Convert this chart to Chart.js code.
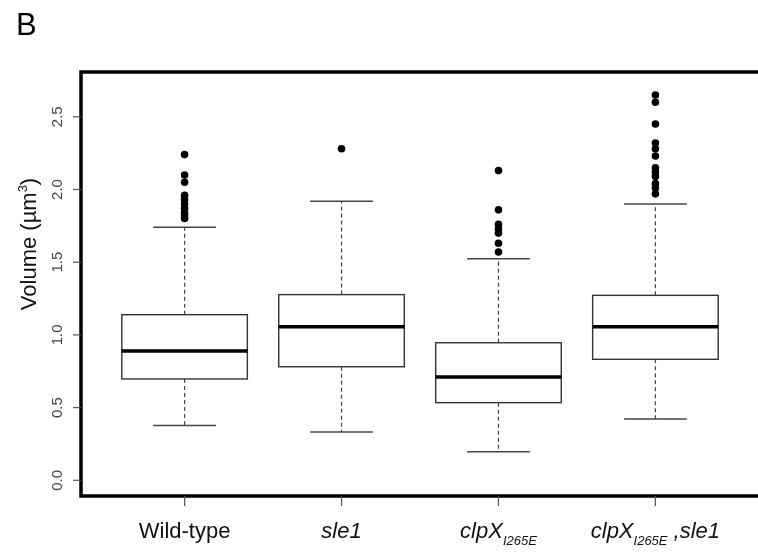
<!DOCTYPE html>
<html>
<head>
<meta charset="utf-8">
<script src="https://cdn.jsdelivr.net/npm/chart.js@4.4.0/dist/chart.umd.min.js"></script>
<style>
html, body { margin: 0; padding: 0; background: #fff; overflow: hidden; }
#wrap { width: 758px; height: 555px; overflow: hidden; position: relative; }
</style>
</head>
<body>
<div id="wrap"><canvas id="chart" width="766" height="555"></canvas></div>
<script>
// Volumes (um^3)
const groups = ['Wild-type', 'sle1', 'clpX I265E', 'clpX I265E, sle1'];
const lowerWhisker = [0.376, 0.332, 0.197, 0.422];
const q1 = [0.697, 0.781, 0.534, 0.832];
const median = [0.889, 1.056, 0.710, 1.056];
const q3 = [1.139, 1.277, 0.946, 1.272];
const upperWhisker = [1.740, 1.919, 1.524, 1.900];
const outliers = [
    [2.24, 2.10, 2.05, 1.96, 1.93, 1.90, 1.87, 1.84, 1.82, 1.80],
    [2.28],
    [2.13, 1.86, 1.76, 1.73, 1.70, 1.63, 1.57],
    [2.65, 2.60, 2.45, 2.32, 2.28, 2.23, 2.15, 2.12, 2.09, 2.04, 2.01, 1.97]
];
const yTicks = [0.0, 0.5, 1.0, 1.5, 2.0, 2.5];
// label pieces: style i = italic, s = italic subscript
const xLabelParts = [
    [['Wild-type', '']],
    [['sle1', 'i']],
    [['clpX', 'i'], ['I265E', 's']],
    [['clpX', 'i'], ['I265E', 's'], [' ,sle1', 'i']]
];

const FONT = '"Liberation Sans", Arial, sans-serif';

// outliers as scatter points on the group positions
const outlierPoints = [];
outliers.forEach((vals, i) => vals.forEach(v => outlierPoints.push({ x: i + 1, y: v })));

const boxPlugin = {
    id: 'boxPlugin',
    beforeDatasetsDraw(chart) {
        const ctx = chart.ctx;
        const xs = chart.scales.x, ys = chart.scales.y;
        const unit = xs.getPixelForValue(2) - xs.getPixelForValue(1);
        const half = unit * 0.4;
        const capHalf = unit * 0.2;
        ctx.save();
        groups.forEach((g, i) => {
            const cx = xs.getPixelForValue(i + 1);
            const yLo = ys.getPixelForValue(lowerWhisker[i]);
            const yQ1 = ys.getPixelForValue(q1[i]);
            const yMed = ys.getPixelForValue(median[i]);
            const yQ3 = ys.getPixelForValue(q3[i]);
            const yHi = ys.getPixelForValue(upperWhisker[i]);

            // whiskers
            ctx.strokeStyle = '#444';
            ctx.lineWidth = 1.2;
            ctx.setLineDash([4, 3]);
            ctx.beginPath();
            ctx.moveTo(cx, yQ3); ctx.lineTo(cx, yHi);
            ctx.moveTo(cx, yQ1); ctx.lineTo(cx, yLo);
            ctx.stroke();
            ctx.setLineDash([]);

            // staples
            ctx.lineWidth = 1.5;
            ctx.beginPath();
            ctx.moveTo(cx - capHalf, yHi); ctx.lineTo(cx + capHalf, yHi);
            ctx.moveTo(cx - capHalf, yLo); ctx.lineTo(cx + capHalf, yLo);
            ctx.stroke();

            // box
            ctx.fillStyle = '#fff';
            ctx.fillRect(cx - half, yQ3, half * 2, yQ1 - yQ3);
            ctx.strokeStyle = '#333';
            ctx.lineWidth = 1.4;
            ctx.strokeRect(cx - half, yQ3, half * 2, yQ1 - yQ3);

            // median
            ctx.strokeStyle = '#000';
            ctx.lineWidth = 3.5;
            ctx.beginPath();
            ctx.moveTo(cx - half, yMed); ctx.lineTo(cx + half, yMed);
            ctx.stroke();
        });
        ctx.restore();
    },
    afterDraw(chart) {
        const ctx = chart.ctx;
        const xs = chart.scales.x, ys = chart.scales.y;
        const a = chart.chartArea;
        ctx.save();

        // frame: left, top, bottom (right edge is cut off by the window)
        ctx.strokeStyle = '#000';
        ctx.lineWidth = 3.5;
        ctx.beginPath();
        ctx.moveTo(chart.width + 5, a.top);
        ctx.lineTo(a.left, a.top);
        ctx.lineTo(a.left, a.bottom);
        ctx.lineTo(chart.width + 5, a.bottom);
        ctx.stroke();

        // y ticks and rotated labels
        ctx.strokeStyle = '#555';
        ctx.lineWidth = 1.2;
        ctx.fillStyle = '#444';
        ctx.font = '15px ' + FONT;
        ctx.textAlign = 'center';
        ctx.textBaseline = 'middle';
        yTicks.forEach(t => {
            const y = ys.getPixelForValue(t);
            ctx.beginPath();
            ctx.moveTo(a.left - 8, y); ctx.lineTo(a.left, y);
            ctx.stroke();
            ctx.save();
            ctx.translate(58, y);
            ctx.rotate(-Math.PI / 2);
            ctx.fillText(t.toFixed(1), 0, 0);
            ctx.restore();
        });

        // x ticks and labels
        groups.forEach((g, i) => {
            const cx = xs.getPixelForValue(i + 1);
            ctx.strokeStyle = '#555';
            ctx.beginPath();
            ctx.moveTo(cx, a.bottom); ctx.lineTo(cx, a.bottom + 10);
            ctx.stroke();

            const parts = xLabelParts[i].map(([txt, st]) => {
                const f = st === 's' ? 'italic 13px ' + FONT
                    : (st === 'i' ? 'italic 22px ' + FONT : '22px ' + FONT);
                ctx.font = f;
                return { txt, st, f, w: ctx.measureText(txt).width };
            });
            const total = parts.reduce((s, p) => s + p.w, 0);
            let x = cx - total / 2;
            ctx.fillStyle = '#111';
            ctx.textAlign = 'left';
            ctx.textBaseline = 'alphabetic';
            parts.forEach(p => {
                ctx.font = p.f;
                ctx.fillText(p.txt, x, p.st === 's' ? 545 : 538);
                x += p.w;
            });
        });

        // y axis title
        ctx.save();
        ctx.translate(36, 244);
        ctx.rotate(-Math.PI / 2);
        ctx.fillStyle = '#111';
        ctx.textBaseline = 'alphabetic';
        ctx.font = '22px ' + FONT;
        const t1 = 'Volume (\u00b5m';
        const w1 = ctx.measureText(t1).width;
        ctx.font = '13px ' + FONT;
        const w2 = ctx.measureText('3').width;
        ctx.font = '22px ' + FONT;
        const w3 = ctx.measureText(')').width;
        let x0 = -(w1 + w2 + w3) / 2;
        ctx.fillText(t1, x0, 0);
        ctx.font = '13px ' + FONT;
        ctx.fillText('3', x0 + w1, -9);
        ctx.font = '22px ' + FONT;
        ctx.fillText(')', x0 + w1 + w2, 0);
        ctx.restore();

        // panel letter
        ctx.fillStyle = '#000';
        ctx.font = '31px ' + FONT;
        ctx.textAlign = 'left';
        ctx.fillText('B', 16, 35);

        ctx.restore();
    }
};

new Chart(document.getElementById('chart'), {
    type: 'scatter',
    data: {
        datasets: [{
            label: 'Outliers',
            data: outlierPoints,
            backgroundColor: '#000',
            borderColor: '#000',
            pointRadius: 3.8,
            pointHoverRadius: 3.8,
            borderWidth: 0
        }]
    },
    options: {
        responsive: false,
        animation: false,
        devicePixelRatio: 1,
        layout: { padding: { left: 81, top: 72, right: 7, bottom: 59 } },
        plugins: { legend: { display: false }, tooltip: { enabled: false } },
        scales: {
            x: { type: 'linear', min: 0.34, max: 4.66, display: false },
            y: { type: 'linear', min: -0.108, max: 2.808, display: false }
        }
    },
    plugins: [boxPlugin]
});
</script>
</body>
</html>
